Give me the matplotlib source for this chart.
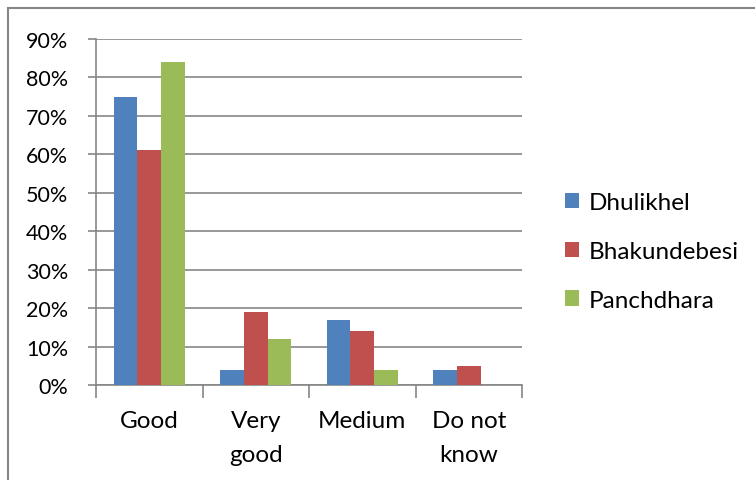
import matplotlib
matplotlib.use("Agg")
import matplotlib.pyplot as plt
import numpy as np
from matplotlib.patches import Rectangle

categories = ["Good", "Very\ngood", "Medium", "Do not\nknow"]
series_names = ["Dhulikhel", "Bhakundebesi", "Panchdhara"]
dhulikhel = [75, 4, 17, 4]
bhakundebesi = [61, 19, 14, 5]
panchdhara = [84, 12, 4, 0]
colors = ["#4F81BD", "#C0504D", "#9BBB59"]
y_ticks = [0, 10, 20, 30, 40, 50, 60, 70, 80, 90]

plt.rcParams["font.family"] = ["Lato", "DejaVu Sans"]
grid_color = "#868686"

fig = plt.figure(figsize=(7.55, 4.81), dpi=100)
ax = fig.add_axes([96 / 755, 1 - 386 / 481, 426 / 755, 346 / 481])

x = np.arange(len(categories))
width = 1 / 4.5
for i, (vals, name, c) in enumerate(zip([dhulikhel, bhakundebesi, panchdhara], series_names, colors)):
    ax.bar(x + (i - 1) * width, vals, width, color=c, label=name, zorder=3)

ax.set_xlim(-0.5, len(categories) - 0.5)
ax.set_ylim(0, 90)
ax.set_yticks(y_ticks)
ax.set_yticklabels([f"{t}%" for t in y_ticks], fontsize=15.5)
ax.yaxis.grid(True, color=grid_color, linewidth=1.2, zorder=0)

# category ticks at the boundaries between groups, labels centred under each group
ax.set_xticks(np.arange(-0.5, len(categories), 1.0))
ax.set_xticklabels([])
ax.set_xticks(x, minor=True)
ax.set_xticklabels(categories, minor=True, fontsize=17.5, linespacing=1.75)
ax.tick_params(axis="x", which="minor", length=0, pad=18)
ax.tick_params(axis="x", which="major", length=9, color=grid_color, width=1.2)
ax.tick_params(axis="y", length=6, color=grid_color, width=1.2, pad=14)

for side in ["top", "right"]:
    ax.spines[side].set_visible(False)
for side in ["left", "bottom"]:
    ax.spines[side].set_color(grid_color)
    ax.spines[side].set_linewidth(1.2)

leg = fig.legend(loc="upper left", bbox_to_anchor=(543 / 755, 1 - 171 / 481),
                 frameon=False, fontsize=17.5, handlelength=0.6, handleheight=0.6,
                 handletextpad=0.4, labelspacing=1.15)

# outer chart border
fig.patches.append(Rectangle((8 / 755, -0.05), 1.2, 1 - 9 / 481 + 0.05,
                             transform=fig.transFigure, fill=False,
                             edgecolor=grid_color, linewidth=1.5))

fig.savefig("out.png", dpi=100)
